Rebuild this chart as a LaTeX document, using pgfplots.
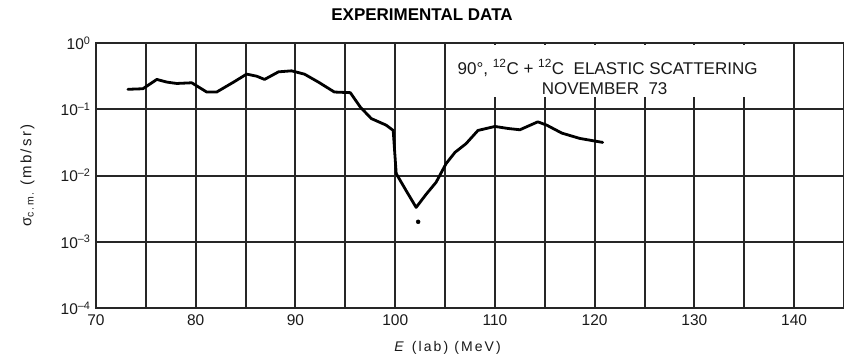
\documentclass[border=0pt]{standalone}
\usepackage{fontspec}
\setmainfont{Liberation Sans}
\newfontfamily\lettering[LetterSpace=15]{Liberation Sans}
\usepackage{pgfplots}
\pgfplotsset{compat=1.18}
\begin{document}
\begin{tikzpicture}[x=1pt,y=1pt]
\useasboundingbox (0,0) rectangle (844,362);
\begin{axis}[
  at={(96pt,54pt)}, anchor=south west,
  width=748pt, height=265pt, scale only axis,
  xmin=70, xmax=145, ymin=1e-4, ymax=1, ymode=log,
  xtick={70,75,...,145},
  xticklabels={70,,80,,90,,100,,110,,120,,130,,140,},
  ytick={1e-4,1e-3,1e-2,1e-1,1},
  yticklabels={10\textsuperscript{--4},10\textsuperscript{--3},10\textsuperscript{--2},10\textsuperscript{--1},10\textsuperscript{0}},
  tick style={draw=none},
  xmajorgrids=true, ymajorgrids=true, xminorgrids=false, yminorgrids=false,
  grid style={draw=black!85, line width=2pt},
  axis line style={black!85, line width=2pt},
  tick label style={font=\fontsize{15.5}{16}\selectfont, text=black!90},
  xticklabel style={yshift=-3pt},
  yticklabel style={xshift=-2pt},
  xlabel={\lettering\fontsize{14}{16}\selectfont\textit{E} (lab) (MeV)},
  xlabel style={at={(rel axis cs:0.47,0)}, anchor=north, yshift=-30pt, text=black!90},
  ylabel={\lettering\fontsize{15}{16}\selectfont σ\textsubscript{c.m.} (mb/sr)},
  ylabel style={at={(rel axis cs:0,0.5)}, anchor=south, yshift=58pt, text=black!90},
  clip=false,
]
\addplot[black, line width=2.8pt, line join=round, line cap=round] coordinates {
(73.2,0.200) (74.7,0.204) (76.1,0.282) (77.1,0.257) (78.1,0.245) (79.6,0.251)
(81.1,0.182) (82.1,0.182) (83.8,0.257) (85.1,0.339) (86.1,0.316) (86.9,0.282)
(88.3,0.367) (89.6,0.380) (90.9,0.339) (92.3,0.257) (93.9,0.182) (95.5,0.178)
(96.5,0.108) (97.6,0.0724) (99.1,0.0575) (99.8,0.0479) (100.1,0.0107)
(101.1,0.0059) (102.1,0.0033) (103.1,0.0052) (104.1,0.0079) (105.1,0.0151)
(106.0,0.0224) (107.1,0.0302) (108.3,0.0479) (110.0,0.0550) (111.3,0.0513)
(112.5,0.0490) (114.3,0.0646) (115.2,0.0575) (116.7,0.0437) (118.5,0.0363)
(120.8,0.0316)
};
\addplot[only marks, mark=*, mark size=2pt, black] coordinates {(102.3,0.0020)};
\node[fill=white, anchor=north west, minimum width=328pt, minimum height=52pt, inner sep=0pt]
  at (rel axis cs:0.474,0.992) {};
\node[anchor=base, font=\fontsize{17}{18}\selectfont, text=black!90] at (axis cs:121.3,0.339)
  {90°, \textsuperscript{12}C + \textsuperscript{12}C\ \ ELASTIC SCATTERING};
\node[anchor=base, font=\fontsize{17}{18}\selectfont, text=black!90] at (axis cs:121.0,0.169)
  {NOVEMBER\ \ 73};
\end{axis}
\node[font=\bfseries\fontsize{17}{19}\selectfont, text=black] at (422,347) {EXPERIMENTAL DATA};
\end{tikzpicture}
\end{document}
